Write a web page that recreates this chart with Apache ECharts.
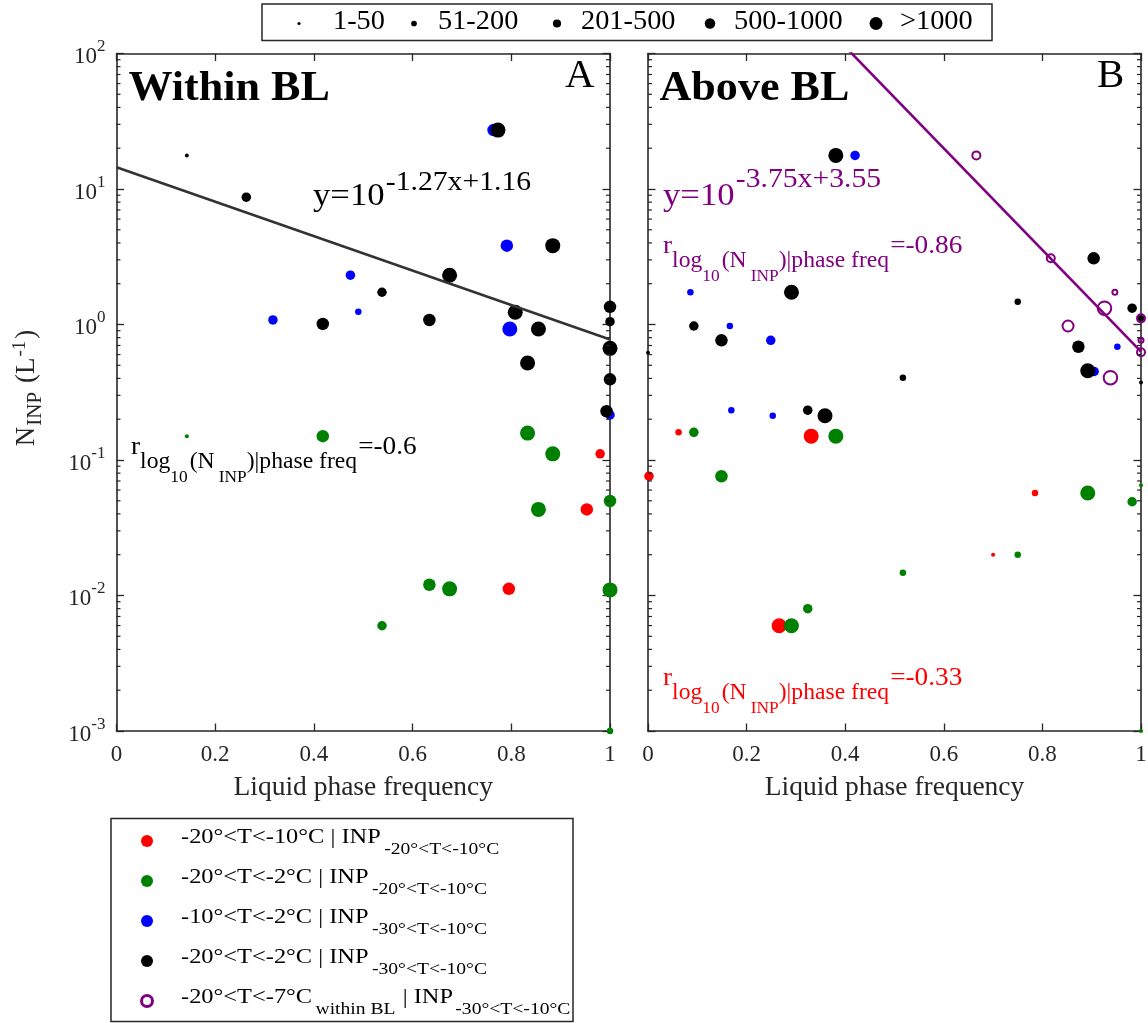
<!DOCTYPE html>
<html>
<head>
<meta charset="utf-8">
<script src="https://cdn.jsdelivr.net/npm/echarts@6/dist/echarts.min.js"></script>
<style>
  html, body { margin: 0; padding: 0; background: #fff; }
  #chart { width: 1148px; height: 1023px; }
</style>
</head>
<body>
<div id="chart"></div>
<script>
// ---- size classes (marker size legend) ----
const sizeLabels = ['1-50', '51-200', '201-500', '500-1000', '>1000'];

// ---- Panel A: within the boundary layer ----
const aRedX = [0.980, 0.953, 0.795];
const aRedY = [0.111, 0.0432, 0.0112];
const aRedS = [2, 3, 3];

const aGreenX = [0.1425, 0.418, 0.833, 0.884, 0.855, 1.0, 0.634, 0.675, 1.0, 0.538, 1.0];
const aGreenY = [0.150, 0.150, 0.158, 0.111, 0.0432, 0.0498, 0.0120, 0.0112, 0.0110, 0.00598, 0.001];
const aGreenS = [0, 3, 4, 4, 4, 3, 3, 4, 4, 2, 1];

const aBlueX = [0.764, 0.791, 0.474, 0.317, 0.490, 0.797, 1.0];
const aBlueY = [27.2, 3.82, 2.31, 1.08, 1.24, 0.927, 0.215];
const aBlueS = [3, 3, 2, 2, 1, 4, 2];

const aBlackX = [0.1425, 0.263, 0.773, 0.884, 0.675, 0.538, 0.418, 0.634, 0.808, 0.855, 0.833, 1.0, 1.0, 1.0, 1.0, 0.993];
const aBlackY = [17.7, 8.7, 27.2, 3.82, 2.31, 1.73, 1.01, 1.08, 1.23, 0.927, 0.52, 1.35, 1.05, 0.667, 0.394, 0.229];
const aBlackS = [0, 2, 4, 4, 4, 2, 3, 3, 4, 4, 4, 3, 2, 4, 3, 3];

// ---- Panel B: above the boundary layer ----
const bRedX = [0.062, 0.331, 0.002, 0.785, 0.700, 0.266];
const bRedY = [0.160, 0.150, 0.0759, 0.0571, 0.0200, 0.00598];
const bRedS = [1, 4, 2, 1, 0, 4];

const bGreenX = [0.093, 0.381, 0.149, 0.892, 0.982, 1.0, 0.750, 0.517, 0.324, 0.291, 1.0];
const bGreenY = [0.160, 0.150, 0.0759, 0.0571, 0.0492, 0.065, 0.0200, 0.0147, 0.0080, 0.00598, 0.001];
const bGreenS = [2, 4, 3, 4, 2, 0, 1, 1, 2, 4, 0];

const bBlueX = [0.420, 0.086, 0.166, 0.249, 0.952, 0.905, 0.169, 0.253];
const bBlueY = [17.7, 1.73, 0.975, 0.764, 0.685, 0.45, 0.233, 0.212];
const bBlueS = [2, 1, 1, 2, 1, 2, 1, 1];

const bBlackX = [0.381, 0.904, 0.291, 0.750, 0.982, 1.0, 0.093, 0.149, 0.873, 0.0, 0.892, 0.517, 1.0, 0.324, 0.359];
const bBlackY = [17.7, 3.08, 1.73, 1.47, 1.32, 1.11, 0.975, 0.764, 0.685, 0.62, 0.456, 0.405, 0.374, 0.233, 0.212];
const bBlackS = [4, 3, 4, 1, 2, 1, 2, 3, 3, 0, 4, 1, 0, 2, 4];

const bPurpleX = [0.666, 0.817, 0.947, 0.926, 1.0, 0.852, 1.0, 1.0, 0.938];
const bPurpleY = [17.7, 3.08, 1.73, 1.32, 1.11, 0.975, 0.766, 0.624, 0.405];
const bPurpleS = [2, 2, 1, 4, 2, 3, 1, 2, 4];

// ---- fits: log10(N) = slope * x + intercept; correlation coefficients ----
const fitSlope = [-1.27, -3.75];
const fitIntercept = [1.16, 3.55];
const corrR = [-0.6, -0.86, -0.33];

// ---- legend text for the colour groups ----
const condMain = ['-20°<T<-10°C', '-20°<T<-2°C', '-10°<T<-2°C', '-20°<T<-2°C', '-20°<T<-7°C'];
const condInp = ['-20°<T<-10°C', '-20°<T<-10°C', '-30°<T<-10°C', '-30°<T<-10°C', '-30°<T<-10°C'];

// ---- styling ----
const SERIF = '"Liberation Serif", "Times New Roman", serif';
const AX = '#262626';
const RED = '#ff0000', GREEN = '#008000', BLUE = '#0000ff', BLACK = '#000000', PURPLE = '#800080';
const SIZE_PX = [4, 6.5, 9.5, 12.5, 15];
const SX = 1.05;

const probe = document.createElement('canvas').getContext('2d');
function textWidth(t, size, weight) {
  probe.font = weight + ' ' + size + 'px ' + SERIF;
  return probe.measureText(t).width;
}
// A run of text pieces on one baseline; each piece: [text, size, baselineShift, gapBefore]
function run(x, y, parts, color, o) {
  o = o || {};
  const sx = o.sx == null ? SX : o.sx;
  const weight = o.bold ? 'bold' : 'normal';
  let cx = 0;
  const kids = [];
  parts.forEach(function (p) {
    const t = p[0], size = p[1], shift = p[2] || 0, gap = p[3] || 0;
    cx += gap;
    kids.push({
      type: 'text', x: cx, y: shift - 0.33 * size, silent: true,
      style: {
        text: t, font: weight + ' ' + size + 'px ' + SERIF, fill: color,
        align: 'left', verticalAlign: 'middle', textAlign: 'left', textVerticalAlign: 'middle'
      }
    });
    cx += textWidth(t, size, weight);
  });
  let gx = x, gy = y;
  if (o.anchor === 'center') {
    if (o.rotation) gy = y + cx * sx / 2; else gx = x - cx * sx / 2;
  }
  return { type: 'group', x: gx, y: gy, scaleX: sx, rotation: o.rotation || 0, silent: true, children: kids };
}

function pts(xs, ys, ss) { return xs.map(function (x, i) { return [x, ys[i], ss[i]]; }); }

function scatter(p, name, data, color, hollow) {
  return {
    type: 'scatter', name: name, xAxisIndex: 2 * p, yAxisIndex: 2 * p, data: data,
    clip: false, silent: true, z: 2, symbol: 'circle',
    symbolSize: function (v) { return hollow ? SIZE_PX[v[2]] - 1.5 : SIZE_PX[v[2]]; },
    itemStyle: hollow
      ? { color: 'rgba(0,0,0,0)', borderColor: color, borderWidth: 2, opacity: 1 }
      : { color: color, opacity: 1, borderWidth: 0 },
    emphasis: { disabled: true }
  };
}

function fitLine(p, color) {
  const m = fitSlope[p], b = fitIntercept[p];
  return {
    type: 'line', xAxisIndex: 2 * p, yAxisIndex: 2 * p,
    data: [[0, Math.pow(10, b)], [1, Math.pow(10, m + b)]],
    symbol: 'none', showSymbol: false, silent: true, clip: true, z: 4,
    lineStyle: { color: color, width: 2.6 }, emphasis: { disabled: true }
  };
}

// minor log ticks (2..9 per decade) on both vertical edges of a panel
const minorTickVals = [];
for (let e = -3; e < 2; e++) for (let m = 2; m <= 9; m++) minorTickVals.push(m * Math.pow(10, e));
function minorTicks(p) {
  return {
    type: 'custom', xAxisIndex: 2 * p, yAxisIndex: 2 * p, silent: true, clip: false, z: 3,
    data: minorTickVals.map(function (v) { return [0, v]; }),
    encode: { x: 0, y: 1 },
    renderItem: function (params, api) {
      const l = api.coord([0, api.value(1)]);
      const r = api.coord([1, api.value(1)]);
      const st = { stroke: AX, lineWidth: 1.2 };
      return {
        type: 'group', children: [
          { type: 'line', shape: { x1: l[0], y1: l[1], x2: l[0] + 4, y2: l[1] }, style: st },
          { type: 'line', shape: { x1: r[0] - 4, y1: r[1], x2: r[0], y2: r[1] }, style: st }
        ]
      };
    }
  };
}

const axisLineStyle = { color: AX, width: 1.6 };
function xAx(gi, pos, showLabel) {
  return {
    type: 'value', gridIndex: gi, position: pos, min: 0, max: 1, interval: 0.2,
    axisLine: { show: true, onZero: false, lineStyle: axisLineStyle },
    axisTick: { show: true, inside: true, length: 7.5, lineStyle: { color: AX, width: 1.3 } },
    axisLabel: { show: showLabel, fontFamily: SERIF, fontSize: 23, color: AX, margin: 12 },
    splitLine: { show: false },
    name: showLabel ? 'Liquid phase frequency' : '', nameLocation: 'middle', nameGap: 43,
    nameTextStyle: { fontFamily: SERIF, fontSize: 27.5, color: AX }
  };
}
function yAx(gi, pos, showLabel) {
  return {
    type: 'log', logBase: 10, gridIndex: gi, position: pos, min: 0.001, max: 100, splitNumber: 5,
    axisLine: { show: true, onZero: false, lineStyle: axisLineStyle },
    axisTick: { show: true, inside: true, length: 7.5, lineStyle: { color: AX, width: 1.3 } },
    axisLabel: {
      show: showLabel, margin: 11,
      formatter: function (v) { return '{b|10}{s|' + Math.round(Math.log10(v)) + '}'; },
      rich: {
        b: { fontFamily: SERIF, fontSize: 23, color: AX, verticalAlign: 'bottom' },
        s: { fontFamily: SERIF, fontSize: 17, color: AX, verticalAlign: 'bottom', padding: [0, 0, 13, 0] }
      }
    },
    splitLine: { show: false }, minorTick: { show: false }
  };
}

// ---- text and legends ----
const g = [];

// marker size legend
const legendDotX = [299, 414, 557, 710, 876];
const legendTextX = [333, 438, 581, 734, 900];
const legendDotPx = [3.2, 5.7, 8.2, 10.5, 13];
g.push({ type: 'rect', silent: true, shape: { x: 262, y: 4, width: 730, height: 36.5 },
  style: { fill: '#fff', stroke: AX, lineWidth: 1.5 } });
sizeLabels.forEach(function (lab, i) {
  g.push({ type: 'circle', silent: true, shape: { cx: legendDotX[i], cy: 23.5, r: legendDotPx[i] / 2 }, style: { fill: '#000' } });
  g.push(run(legendTextX[i], 30.7, [[lab, 27]], '#000'));
});

// panel titles and letters
g.push(run(128.5, 103, [['Within BL', 42]], '#000', { bold: true }));
g.push(run(659.5, 103, [['Above BL', 42]], '#000', { bold: true }));
g.push(run(565, 89.3, [['A', 39]], '#000'));
g.push(run(1097, 89.3, [['B', 39]], '#000'));

// fit equations
function expo(p) { return fitSlope[p] + 'x+' + fitIntercept[p]; }
g.push(run(313, 207.3, [['y=10', 31], [expo(0), 26.5, -15.6, 1]], '#000', { sx: 1.12 }));
g.push(run(663, 206.7, [['y=10', 31], [expo(1), 26.5, -18.4, 1]], PURPLE, { sx: 1.12 }));

// correlation labels
function corrParts(r, sub, subsub) {
  return [['r', 26], ['log', 22.5, sub], ['10', 16.5, subsub], ['(N', 22.5, sub, 2],
          ['INP', 16.5, subsub, 4], [')|phase freq', 22.5, sub], ['=' + r, 26, 0, 1]];
}
g.push(run(131, 456, corrParts(corrR[0], 14, 27.3), '#000'));
g.push(run(663, 255, corrParts(corrR[1], 14, 27.3), PURPLE));
g.push(run(663, 686.5, corrParts(corrR[2], 14.5, 28), RED));

// y-axis title, rotated
g.push(run(36, 388, [['N', 27], ['INP', 21, 6, 1], [' (L', 27, 0, 2], ['-1', 19, -10, 1], [')', 27, 0, 2]],
  AX, { sx: 1, rotation: Math.PI / 2, anchor: 'center' }));

// colour-group legend
const groupColors = [RED, GREEN, BLUE, BLACK, PURPLE];
const rowY = [841, 881, 921, 961, 1001];
g.push({ type: 'rect', silent: true, shape: { x: 111, y: 818.5, width: 462, height: 203 },
  style: { fill: '#fff', stroke: AX, lineWidth: 1.5 } });
groupColors.forEach(function (c, i) {
  if (i === 4) {
    g.push({ type: 'circle', silent: true, shape: { cx: 147, cy: rowY[i], r: 5.5 }, style: { fill: 'none', stroke: c, lineWidth: 3 } });
  } else {
    g.push({ type: 'circle', silent: true, shape: { cx: 147, cy: rowY[i], r: 6 }, style: { fill: c } });
  }
  const base = rowY[i] + 3;
  const parts = i === 4
    ? [[condMain[i], 21.8], ['within BL', 17.5, 11.5, 3], [' | INP', 21.8, 0, 1], [condInp[i], 17.5, 11.5, 2]]
    : [[condMain[i] + ' | INP', 21.8], [condInp[i], 17.5, 11.5, 3]];
  g.push(run(181, base, parts, '#000', { sx: 1.12 }));
});

const option = {
  backgroundColor: '#fff',
  animation: false,
  grid: [
    { left: 116.5, top: 53.5, width: 493.5, height: 677.5, containLabel: false, outerBoundsMode: 'none' },
    { left: 648, top: 53.5, width: 493, height: 677.5, containLabel: false, outerBoundsMode: 'none' }
  ],
  xAxis: [xAx(0, 'bottom', true), xAx(0, 'top', false), xAx(1, 'bottom', true), xAx(1, 'top', false)],
  yAxis: [yAx(0, 'left', true), yAx(0, 'right', false), yAx(1, 'left', false), yAx(1, 'right', false)],
  series: [
    scatter(0, 'red', pts(aRedX, aRedY, aRedS), RED),
    scatter(0, 'green', pts(aGreenX, aGreenY, aGreenS), GREEN),
    scatter(0, 'blue', pts(aBlueX, aBlueY, aBlueS), BLUE),
    scatter(0, 'black', pts(aBlackX, aBlackY, aBlackS), BLACK),
    fitLine(0, '#333333'),
    minorTicks(0),
    scatter(1, 'red', pts(bRedX, bRedY, bRedS), RED),
    scatter(1, 'green', pts(bGreenX, bGreenY, bGreenS), GREEN),
    scatter(1, 'blue', pts(bBlueX, bBlueY, bBlueS), BLUE),
    scatter(1, 'black', pts(bBlackX, bBlackY, bBlackS), BLACK),
    scatter(1, 'purple', pts(bPurpleX, bPurpleY, bPurpleS), PURPLE, true),
    fitLine(1, PURPLE),
    minorTicks(1)
  ],
  graphic: { elements: g }
};

const chart = echarts.init(document.getElementById('chart'), null, { renderer: 'canvas' });
chart.setOption(option);
</script>
</body>
</html>
